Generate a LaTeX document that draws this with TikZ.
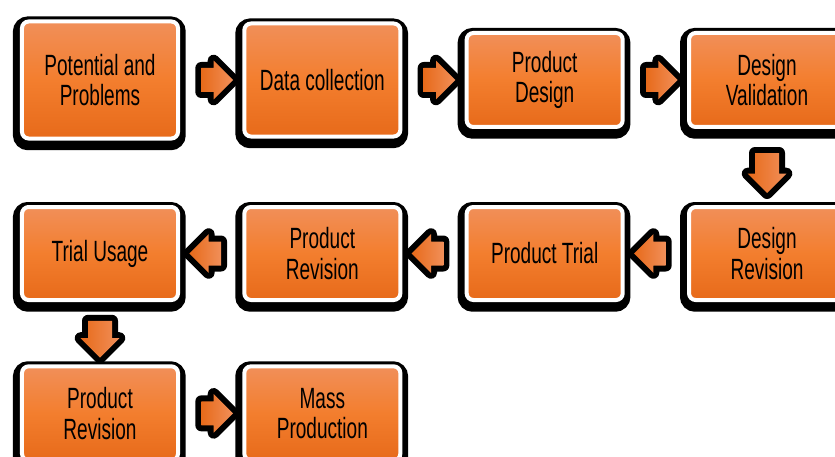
\documentclass[tikz,border=0pt]{standalone}
\usepackage{fontspec}
\newfontfamily\stagefont[FakeStretch=0.65]{Liberation Sans}
\usetikzlibrary{positioning,shapes.arrows}
\definecolor{orangetop}{RGB}{241,143,89}
\definecolor{orangemid}{RGB}{243,126,46}
\definecolor{orangebot}{RGB}{231,106,26}
\tikzset{stage/.style={rounded corners=0.2cm, top color=orangetop, bottom color=orangebot, middle color=orangemid,
    draw=white, line width=0.12cm, minimum width=4.68cm, inner sep=0pt, align=center,
    font=\stagefont\fontsize{25}{26}\selectfont,
    preaction={draw=black, fill=black, line width=0.5cm, transform canvas={shift={(-0.02cm,-0.1cm)}}}}}
\tikzset{flow/.style={single arrow, inner xsep=0pt, inner ysep=0.36cm, minimum height=0.95cm,
    single arrow head extend=0.22cm, single arrow head indent=0pt,
    left color=orangebot, right color=orangetop, draw=none, line width=0pt,
    preaction={draw=black, fill=black, line width=0.36cm, line join=round}}}
\begin{document}
\begin{tikzpicture}[x=0.03cm, y=-0.03cm, node distance=1.87cm]
            \useasboundingbox (0,0) rectangle (835,457);
            \node[stage, minimum height=3.51cm] (potential) at (100,80) {Potential and\\Problems};
            \node[stage, minimum height=3.39cm, right=of potential] (data) {Data collection};
            \node[stage, minimum height=2.82cm, right=of data] (design) {Product\\Design};
            \node[stage, minimum height=2.82cm, right=of design] (validation) {Design\\Validation};
            \node[stage, minimum height=2.79cm, below=2.28cm of validation] (drevision) {Design\\Revision};
            \node[stage, minimum height=2.79cm, left=of drevision] (trial) {Product Trial};
            \node[stage, minimum height=2.79cm, left=of trial] (prevision) {Product\\Revision};
            \node[stage, minimum height=2.79cm, left=of prevision] (usage) {Trial Usage};
            \node[stage, minimum height=2.82cm, below=of usage] (prevision2) {Product\\Revision};
            \node[stage, minimum height=2.82cm, right=of prevision2] (mass) {Mass\\Production};

            \path (potential) -- (data) node[midway, flow] {};
            \path (data) -- (design) node[midway, flow] {};
            \path (design) -- (validation) node[midway, flow] {};
            \path (validation) -- (drevision) node[midway, flow, rotate=-90, minimum height=1.2cm] {};
            \path (drevision) -- (trial) node[midway, flow, rotate=180] {};
            \path (trial) -- (prevision) node[midway, flow, rotate=180] {};
            \path (prevision) -- (usage) node[midway, flow, rotate=180] {};
            \path (usage) -- (prevision2) node[midway, flow, rotate=-90, minimum height=1.1cm] {};
            \path (prevision2) -- (mass) node[midway, flow] {};
        \end{tikzpicture}
\end{document}
